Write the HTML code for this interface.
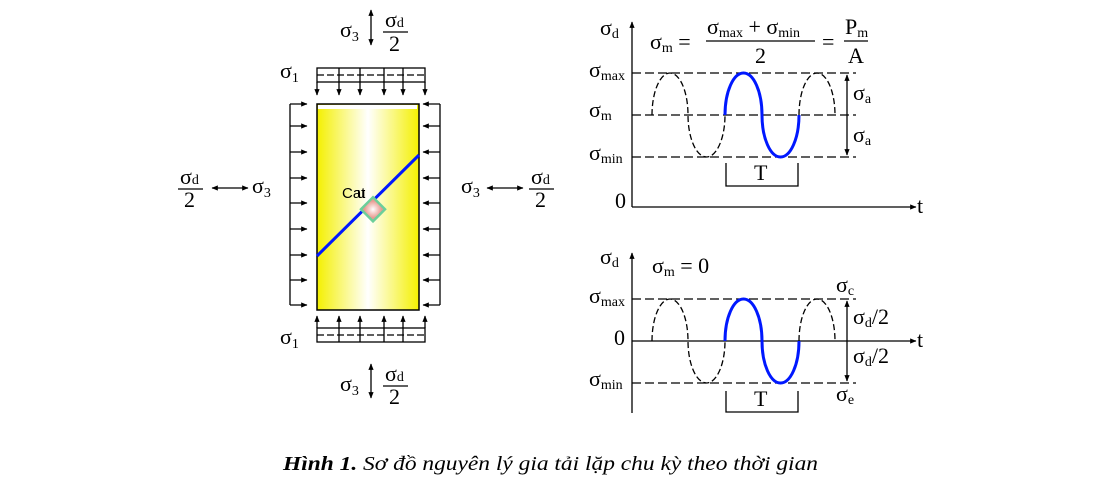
<!DOCTYPE html>
<html><head><meta charset="utf-8"><style>
html,body{margin:0;padding:0;background:#fff;}
svg{display:block;}
text{font-family:"Liberation Serif","Times New Roman",serif;fill:#000;}
.s{font-size:22px}
.sub{font-size:14px}
</style></head><body>
<svg width="1099" height="479" viewBox="0 0 1099 479" xmlns="http://www.w3.org/2000/svg">
<defs>
<linearGradient id="g" x1="0" x2="1" y1="0" y2="0">
<stop offset="0" stop-color="#f4f000"/><stop offset="0.5" stop-color="#ffffff"/><stop offset="1" stop-color="#f4f000"/>
</linearGradient>
<radialGradient id="rg"><stop offset="0" stop-color="#fff"/><stop offset="1" stop-color="#e89a90"/></radialGradient>
<marker id="a" viewBox="0 0 10 10" refX="9" refY="5" markerWidth="5" markerHeight="5" orient="auto"><path d="M0,1 L10,5 L0,9z" fill="#000"/></marker>
</defs>

<rect x="317" y="104" width="102" height="206" fill="url(#g)" stroke="#000" stroke-width="1.5"/>
<rect x="318" y="105" width="99" height="4" fill="#fff"/>
<line x1="317" y1="256" x2="419" y2="155" stroke="#0018ff" stroke-width="3"/>
<rect x="364" y="201" width="17" height="17" transform="rotate(45 373 210)" fill="url(#rg)" stroke="#6ccf9a" stroke-width="2.5"/>
<text x="342" y="198" style="font-family:'Liberation Sans',sans-serif;font-size:15px">Cat</text><text x="357" y="198" style="font-family:'Liberation Sans',sans-serif;font-size:15px">u</text>

<g stroke="#000" stroke-width="1.3" fill="none">
<rect x="317" y="68" width="108" height="14"/>
<line x1="317" y1="75" x2="425" y2="75" stroke-dasharray="7,3"/>
<line x1="339" y1="68" x2="339" y2="82"/><line x1="360" y1="68" x2="360" y2="82"/><line x1="384" y1="68" x2="384" y2="82"/><line x1="403" y1="68" x2="403" y2="82"/>
<line x1="317" y1="82" x2="317" y2="95" marker-end="url(#a)"/><line x1="339" y1="82" x2="339" y2="95" marker-end="url(#a)"/><line x1="360" y1="82" x2="360" y2="95" marker-end="url(#a)"/><line x1="384" y1="82" x2="384" y2="95" marker-end="url(#a)"/><line x1="403" y1="82" x2="403" y2="95" marker-end="url(#a)"/><line x1="425" y1="82" x2="425" y2="95" marker-end="url(#a)"/>
<rect x="317" y="328" width="108" height="14"/>
<line x1="317" y1="335" x2="425" y2="335" stroke-dasharray="7,3"/>
<line x1="339" y1="328" x2="339" y2="342"/><line x1="360" y1="328" x2="360" y2="342"/><line x1="384" y1="328" x2="384" y2="342"/><line x1="403" y1="328" x2="403" y2="342"/>
<line x1="317" y1="328" x2="317" y2="316" marker-end="url(#a)"/><line x1="339" y1="328" x2="339" y2="316" marker-end="url(#a)"/><line x1="360" y1="328" x2="360" y2="316" marker-end="url(#a)"/><line x1="384" y1="328" x2="384" y2="316" marker-end="url(#a)"/><line x1="403" y1="328" x2="403" y2="316" marker-end="url(#a)"/><line x1="425" y1="328" x2="425" y2="316" marker-end="url(#a)"/>
<line x1="290" y1="104" x2="290" y2="305"/>
<line x1="290" y1="104" x2="307" y2="104" marker-end="url(#a)"/><line x1="290" y1="126" x2="307" y2="126" marker-end="url(#a)"/><line x1="290" y1="152" x2="307" y2="152" marker-end="url(#a)"/><line x1="290" y1="178" x2="307" y2="178" marker-end="url(#a)"/><line x1="290" y1="203" x2="307" y2="203" marker-end="url(#a)"/><line x1="290" y1="229" x2="307" y2="229" marker-end="url(#a)"/><line x1="290" y1="255" x2="307" y2="255" marker-end="url(#a)"/><line x1="290" y1="280" x2="307" y2="280" marker-end="url(#a)"/><line x1="290" y1="305" x2="307" y2="305" marker-end="url(#a)"/>
<line x1="440" y1="104" x2="440" y2="305"/>
<line x1="440" y1="104" x2="423" y2="104" marker-end="url(#a)"/><line x1="440" y1="126" x2="423" y2="126" marker-end="url(#a)"/><line x1="440" y1="152" x2="423" y2="152" marker-end="url(#a)"/><line x1="440" y1="178" x2="423" y2="178" marker-end="url(#a)"/><line x1="440" y1="203" x2="423" y2="203" marker-end="url(#a)"/><line x1="440" y1="229" x2="423" y2="229" marker-end="url(#a)"/><line x1="440" y1="255" x2="423" y2="255" marker-end="url(#a)"/><line x1="440" y1="280" x2="423" y2="280" marker-end="url(#a)"/><line x1="440" y1="305" x2="423" y2="305" marker-end="url(#a)"/>
<line x1="371" y1="26" x2="371" y2="10" marker-end="url(#a)"/><line x1="371" y1="26" x2="371" y2="45" marker-end="url(#a)"/>
<line x1="371" y1="381" x2="371" y2="364" marker-end="url(#a)"/><line x1="371" y1="381" x2="371" y2="398" marker-end="url(#a)"/>
<line x1="230" y1="188" x2="212" y2="188" marker-end="url(#a)"/><line x1="230" y1="188" x2="248" y2="188" marker-end="url(#a)"/>
<line x1="505" y1="188" x2="487" y2="188" marker-end="url(#a)"/><line x1="505" y1="188" x2="523" y2="188" marker-end="url(#a)"/>
<line x1="383" y1="32" x2="408" y2="32"/><line x1="383" y1="386" x2="408" y2="386"/>
<line x1="178" y1="189" x2="203" y2="189"/><line x1="529" y1="189" x2="554" y2="189"/>
</g>
<text class="s" x="340" y="37">σ<tspan class="sub" dy="4">3</tspan></text>
<text class="s" x="385" y="27">σ<tspan class="sub">d</tspan></text><text class="s" x="389" y="51">2</text>
<text class="s" x="340" y="391">σ<tspan class="sub" dy="4">3</tspan></text>
<text class="s" x="385" y="381">σ<tspan class="sub">d</tspan></text><text class="s" x="389" y="404">2</text>
<text class="s" x="280" y="78">σ<tspan class="sub" dy="4">1</tspan></text>
<text class="s" x="280" y="344">σ<tspan class="sub" dy="4">1</tspan></text>
<text class="s" x="180" y="184">σ<tspan class="sub">d</tspan></text><text class="s" x="184" y="207">2</text>
<text class="s" x="252" y="193">σ<tspan class="sub" dy="4">3</tspan></text>
<text class="s" x="461" y="193">σ<tspan class="sub" dy="4">3</tspan></text>
<text class="s" x="531" y="184">σ<tspan class="sub">d</tspan></text><text class="s" x="535" y="207">2</text>

<!-- TOP CHART -->
<g stroke="#000" fill="none" stroke-width="1.3">
<line x1="632" y1="207" x2="632" y2="22" marker-end="url(#a)"/>
<line x1="632" y1="207" x2="916" y2="207" marker-end="url(#a)"/>
<line x1="632" y1="73" x2="856" y2="73" stroke-dasharray="9,4"/>
<line x1="632" y1="115" x2="856" y2="115" stroke-dasharray="9,4"/>
<line x1="632" y1="157" x2="856" y2="157" stroke-dasharray="9,4"/>
<path d="M652,115 A18,42 0 0 1 688,115 A18.5,42 0 0 0 725,115 M799,115 A18,42 0 0 1 835,115" stroke-dasharray="6,3"/>
<path d="M725,115 A18.5,42 0 0 1 762,115 A18.5,42 0 0 0 799,115" stroke="#0018ff" stroke-width="3"/>
<line x1="847" y1="94" x2="847" y2="75" marker-end="url(#a)"/><line x1="847" y1="94" x2="847" y2="136"/>
<line x1="847" y1="136" x2="847" y2="155" marker-end="url(#a)"/>
<path d="M726,163 V186 H798 V163"/>
</g>
<text class="s" x="600" y="35">σ<tspan class="sub" dy="3">d</tspan></text>
<text class="s" x="650" y="49">σ<tspan class="sub" dy="3">m</tspan><tspan dy="-3"> = </tspan></text>
<text class="s" x="707" y="34">σ<tspan class="sub" dy="3">max</tspan><tspan dy="-3"> + σ</tspan><tspan class="sub" dy="3">min</tspan></text>
<line x1="706" y1="41" x2="815" y2="41" stroke="#000" stroke-width="1.3"/>
<text class="s" x="755" y="63">2</text>
<text class="s" x="822" y="49">=</text>
<text class="s" x="845" y="34">P<tspan class="sub" dy="3">m</tspan></text>
<line x1="844" y1="41" x2="868" y2="41" stroke="#000" stroke-width="1.3"/>
<text class="s" x="848" y="63">A</text>
<text class="s" x="589" y="77">σ<tspan class="sub" dy="3">max</tspan></text>
<text class="s" x="589" y="117">σ<tspan class="sub" dy="3">m</tspan></text>
<text class="s" x="589" y="160">σ<tspan class="sub" dy="3">min</tspan></text>
<text class="s" x="615" y="208">0</text>
<text class="s" x="917" y="213">t</text>
<text class="s" x="853" y="100">σ<tspan class="sub" dy="3">a</tspan></text>
<text class="s" x="853" y="142">σ<tspan class="sub" dy="3">a</tspan></text>
<text class="s" x="754" y="180">T</text>

<!-- BOTTOM CHART -->
<g stroke="#000" fill="none" stroke-width="1.3">
<line x1="632" y1="413" x2="632" y2="253" marker-end="url(#a)"/>
<line x1="632" y1="341" x2="916" y2="341" marker-end="url(#a)"/>
<line x1="632" y1="299" x2="856" y2="299" stroke-dasharray="9,4"/>
<line x1="632" y1="383" x2="856" y2="383" stroke-dasharray="9,4"/>
<path d="M652,341 A18,42 0 0 1 688,341 A18.5,42 0 0 0 725,341 M799,341 A18,42 0 0 1 835,341" stroke-dasharray="6,3"/>
<path d="M725,341 A18.5,42 0 0 1 762,341 A18.5,42 0 0 0 799,341" stroke="#0018ff" stroke-width="3"/>
<line x1="847" y1="320" x2="847" y2="301" marker-end="url(#a)"/><line x1="847" y1="320" x2="847" y2="362"/>
<line x1="847" y1="362" x2="847" y2="381" marker-end="url(#a)"/>
<path d="M726,391 V412 H798 V391"/>
</g>
<text class="s" x="600" y="264">σ<tspan class="sub" dy="3">d</tspan></text>
<text class="s" x="652" y="273">σ<tspan class="sub" dy="3">m</tspan><tspan dy="-3"> = 0</tspan></text>
<text class="s" x="589" y="303">σ<tspan class="sub" dy="3">max</tspan></text>
<text class="s" x="614" y="345">0</text>
<text class="s" x="589" y="386">σ<tspan class="sub" dy="3">min</tspan></text>
<text class="s" x="917" y="347">t</text>
<text class="s" x="836" y="292">σ<tspan class="sub" dy="3">c</tspan></text>
<text class="s" x="836" y="401">σ<tspan class="sub" dy="3">e</tspan></text>
<text class="s" x="853" y="324">σ<tspan class="sub" dy="3">d</tspan><tspan dy="-3">/2</tspan></text>
<text class="s" x="853" y="363">σ<tspan class="sub" dy="3">d</tspan><tspan dy="-3">/2</tspan></text>
<text class="s" x="754" y="406">T</text>

<text x="283" y="470" style="font-size:20px;font-style:italic" textLength="535" lengthAdjust="spacingAndGlyphs"><tspan font-weight="bold">Hình 1.</tspan> Sơ đồ nguyên lý gia tải lặp chu kỳ theo thời gian</text>
</svg>
</body></html>
